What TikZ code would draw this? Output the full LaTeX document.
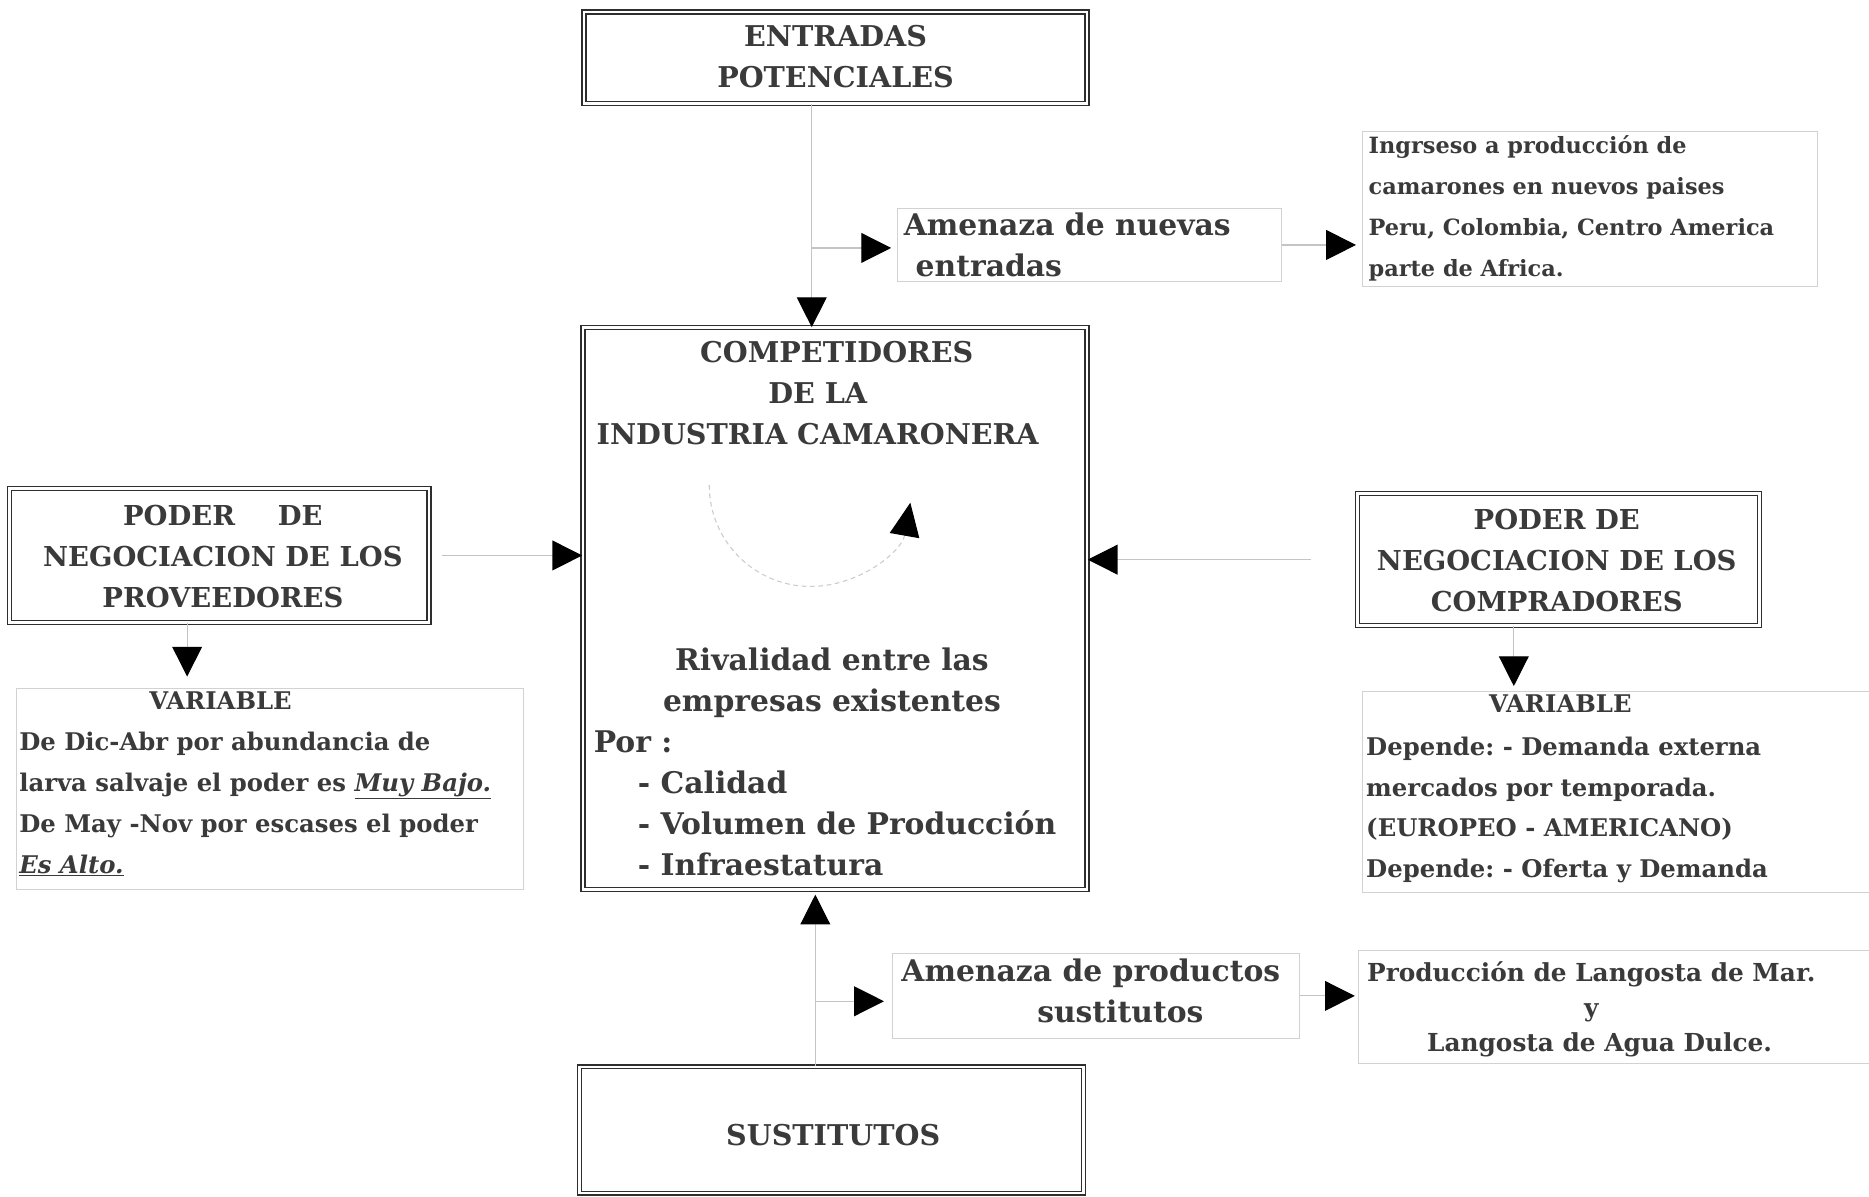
\documentclass[tikz,border=0pt]{standalone}
\usepackage{fontspec}
\setmainfont{DejaVu Serif}
\usetikzlibrary{arrows.meta}
\definecolor{txt}{HTML}{3A3A3A}
\definecolor{boxc}{HTML}{2E2E2E}
\definecolor{faint}{HTML}{D2D2D2}
\definecolor{lin}{HTML}{C4C4C4}
\begin{document}
\frenchspacing
\begin{tikzpicture}[x=1pt,y=-1pt,
  dbox/.style={draw=boxc, double=white, double distance=2.2pt, line width=1.1pt, rectangle, inner sep=0},
  fbox/.style={draw=faint, line width=0.8pt, rectangle, inner sep=0},
  big/.style={font=\bfseries\fontsize{24}{34.3}\selectfont, text=txt, inner sep=0},
  neg/.style={font=\bfseries\fontsize{23}{34.5}\selectfont, text=txt, inner sep=0},
  mix/.style={font=\bfseries\fontsize{25}{34.3}\selectfont, text=txt, inner sep=0},
  sml/.style={font=\bfseries\fontsize{20.4}{34.3}\selectfont, text=txt, inner sep=0},
  ing/.style={font=\bfseries\fontsize{18.8}{34.3}\selectfont, text=txt, inner sep=0},
  conn/.style={draw=lin, line width=1pt, -{Triangle[length=25pt,width=25pt,color=black]}}]
\useasboundingbox (0,0) rectangle (1568,1004);
\fill[white] (0,0) rectangle (1568,1004);
% boxes
\node[dbox, minimum width=422pt, minimum height=77pt] (E) at (701,48.5) {};
\node[fbox, minimum width=322pt, minimum height=61pt] (AN) at (914,205.5) {};
\node[fbox, minimum width=382pt, minimum height=130pt] (I) at (1334,175) {};
\node[dbox, minimum width=423pt, minimum height=471pt] (C) at (700.5,510.5) {};
\node[dbox, minimum width=352pt, minimum height=112pt] (P) at (184,466) {};
\node[fbox, minimum width=425pt, minimum height=168pt] (VL) at (226.5,662) {};
\node[dbox, minimum width=337pt, minimum height=111pt] (B) at (1307.5,469.5) {};
\node[fbox, minimum width=432pt, minimum height=169pt] (VR) at (1359,664.5) {};
\node[fbox, minimum width=341pt, minimum height=71pt] (AP) at (919.5,835.5) {};
\node[fbox, minimum width=435pt, minimum height=95pt] (PL) at (1357.5,844.5) {};
\node[dbox, minimum width=423pt, minimum height=106pt] (S) at (697.5,948) {};
% helper coordinates
\coordinate (xe) at (681,0);
\coordinate (b1) at (681,208);
\coordinate (xs) at (684,0);
\coordinate (b2) at (684,840);
\coordinate (xp) at (157,0);
\coordinate (xb) at (1270,0);
\coordinate (rs) at (595,407);
% connectors
\draw[conn] (E.south -| xe) -- (C.north -| xe);
\draw[conn, shorten >=5pt] (b1) -- (b1 -| AN.west);
\draw[conn, shorten >=5pt] (AN.east) -- (I.west |- AN.east);
\draw[conn, shorten <=10pt] (P.east) -- (C.west |- P.east);
\draw[conn, shorten <=39pt] (B.west) -- (C.east |- B.west);
\draw[conn, shorten >=10pt] (P.south -| xp) -- (VL.north -| xp);
\draw[conn, shorten >=4pt] (B.south -| xb) -- (VR.north -| xb);
\draw[conn, shorten >=4pt] (S.north -| xs) -- (C.south -| xs);
\draw[conn, shorten >=7pt] (b2) -- (b2 -| AP.west);
\draw[conn, shorten >=3pt] (AP.east) -- (PL.west |- AP.east);
\draw[draw=black!20, line width=0.9pt, dash pattern=on 4pt off 3pt, -{Triangle[length=28pt,width=25pt,color=black]}] (rs) arc[start angle=180, end angle=10, radius=85];
% texts
\node[big, align=center, anchor=north] (Et) at (701,21.25) {ENTRADAS\\POTENCIALES};
\node[big, align=center, anchor=north] (Ct) at (686,286.25) {\hspace*{32pt}COMPETIDORES\\DE LA\\INDUSTRIA CAMARONERA};
\node[mix, align=center, anchor=north] (Rt) at (698,543.1) {Rivalidad entre las\\empresas existentes};
\node[mix, align=left, anchor=north west] (Pt) at (498,612.9) {Por :\\\hspace*{37pt}- Calidad\\\hspace*{37pt}- Volumen de Producción\\\hspace*{37pt}- Infraestatura};
\node[neg, align=center, anchor=north] (Pp) at (187,423.6) {PODER\hspace{36pt}DE\\NEGOCIACION DE LOS\\PROVEEDORES};
\node[neg, align=center, anchor=north] (Bt) at (1306,426.6) {PODER DE\\NEGOCIACION DE LOS\\COMPRADORES};
\node[big] (St) at (699,952) {SUSTITUTOS};
\node[mix, align=left, anchor=north west] (ANt) at (758,178.1) {Amenaza de nuevas\\\hspace*{10pt}entradas};
\node[mix, align=left, anchor=north west] (APt) at (756,804.1) {Amenaza de productos\\\hspace*{114pt}sustitutos};
\node[sml] (VLh) at (185,588) {VARIABLE};
\node[sml, align=left, anchor=north west] (VLt) at (16,613.8) {De Dic-Abr por abundancia de\\larva salvaje el poder es \underline{\textit{Muy Bajo.}}\\De May -Nov por escases el poder\\\underline{\textit{Es Alto.}}};
\node[sml] (VRh) at (1309,590) {VARIABLE};
\node[sml, align=left, anchor=north west] (VRt) at (1146,617.8) {Depende: - Demanda externa\\mercados por temporada.\\(EUROPEO - AMERICANO)\\Depende: - Oferta y Demanda};
\node[ing, align=left, anchor=north west] (It) at (1148,113.7) {Ingrseso a producción de\\camarones en nuevos paises\\Peru, Colombia, Centro America\\parte de Africa.};
\node[font=\bfseries\fontsize{20.8}{29.5}\selectfont, text=txt, inner sep=0, align=center, anchor=north] (PLt) at (1335,806.5) {Producción de Langosta de Mar.\\y\\\hspace*{14pt}Langosta de Agua Dulce.};
\end{tikzpicture}
\end{document}
